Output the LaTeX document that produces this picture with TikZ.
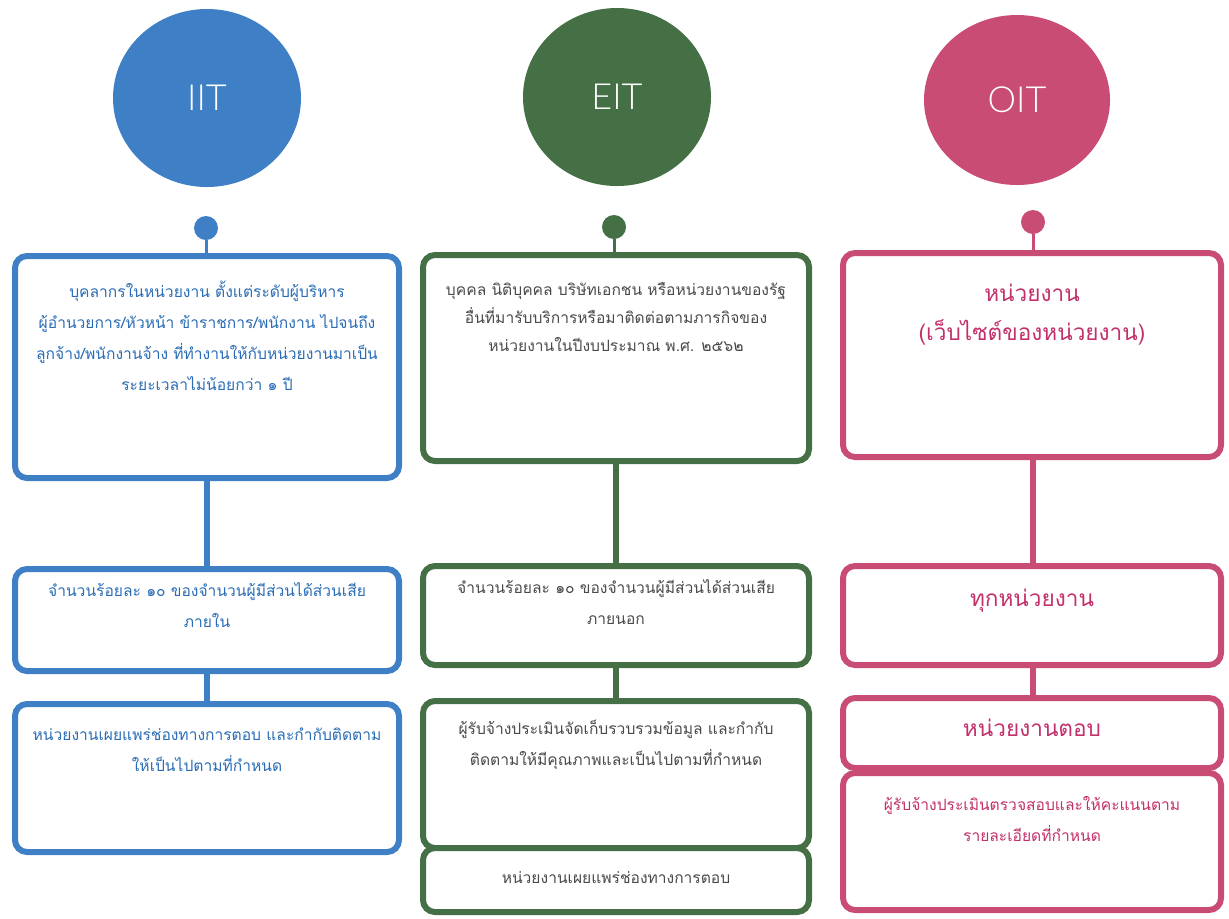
\documentclass[tikz,border=0pt]{standalone}
\usepackage{fontspec}
\newfontfamily\thaifont[Script=Thai]{Loma}
\newfontfamily\circfont{Lato Light}
\usetikzlibrary{positioning,shapes.geometric}

\definecolor{iitblue}{HTML}{3E7FC5}
\definecolor{iittext}{HTML}{2A6DB6}
\definecolor{eitgreen}{HTML}{456F44}
\definecolor{eittext}{HTML}{4A4A4A}
\definecolor{oitpink}{HTML}{C84C73}
\definecolor{oittext}{HTML}{C3306B}

\tikzset{
  head/.style={ellipse, fill=#1, text=white, minimum width=94pt, minimum height=89pt,
    font=\circfont\fontsize{18}{18}\selectfont},
  knob/.style={circle, fill=#1, minimum size=12pt, inner sep=0pt},
  panel/.style={draw=#1, line width=3pt, rounded corners=6pt, fill=white},
  stem/.style={draw=#1, line width=3pt},
  thinstem/.style={draw=#1, line width=1.5pt},
  paneltext/.style={align=center, inner sep=0pt, font=\thaifont\fontsize{7.8}{15.5}\selectfont},
  bigtext/.style={align=center, inner sep=0pt, font=\thaifont\fontsize{11.3}{19.5}\selectfont}
}

\begin{document}
\begin{tikzpicture}[x=0.5pt, y=-0.5pt]
  \useasboundingbox (0,0) rectangle (1229,918);

  % heads
  \node[head=iitblue] (iit) at (207,98) {IIT};
  \node[head=eitgreen] (eit) at (617,97) {EIT};
  \node[head=oitpink, minimum width=93pt, minimum height=85pt] (oit) at (1017,100) {OIT};

  \node[knob=iitblue] (iitdot) at (206,228) {};
  \node[knob=eitgreen] (eitdot) at (614,227) {};
  \node[knob=oitpink] (oitdot) at (1033,222) {};

  % IIT column
  \node[panel=iitblue, minimum width=192pt, minimum height=111pt] (iitA) at (207,367) {};
  \node[panel=iitblue, minimum width=192pt, minimum height=51pt] (iitB) at (207,620) {};
  \node[panel=iitblue, minimum width=192pt, minimum height=74pt] (iitC) at (207,778) {};

  % EIT column
  \node[panel=eitgreen, minimum width=193pt, minimum height=103pt] (eitA) at (616,358) {};
  \node[panel=eitgreen, minimum width=193pt, minimum height=49.5pt] (eitB) at (616,615.5) {};
  \node[panel=eitgreen, minimum width=193pt, minimum height=73.5pt] (eitC) at (616,774.5) {};
  \node[panel=eitgreen, minimum width=193pt, minimum height=32pt] (eitD) at (616,880) {};

  % OIT column
  \node[panel=oitpink, minimum width=189pt, minimum height=102pt] (oitA) at (1032,355) {};
  \node[panel=oitpink, minimum width=189pt, minimum height=49.5pt] (oitB) at (1032,615.5) {};
  \node[panel=oitpink, minimum width=189pt, minimum height=35pt] (oitC) at (1032,733) {};
  \node[panel=oitpink, minimum width=189pt, minimum height=68.5pt] (oitD) at (1032,841.5) {};

  % connectors
  \draw[thinstem=iitblue] (iitdot.south) -- (iitdot.south |- iitA.north);
  \draw[thinstem=eitgreen] (eitdot.south) -- (eitdot.south |- eitA.north);
  \draw[thinstem=oitpink] (oitdot.south) -- (oitdot.south |- oitA.north);
  \draw[stem=iitblue] (iitA.south) -- (iitB.north);
  \draw[stem=iitblue] (iitB.south) -- (iitC.north);
  \draw[stem=eitgreen] (eitA.south) -- (eitB.north);
  \draw[stem=eitgreen] (eitB.south) -- (eitC.north);
  \draw[stem=oitpink] (oitA.south -| oitdot) -- (oitB.north -| oitdot);
  \draw[stem=oitpink] (oitB.south -| oitdot) -- (oitC.north -| oitdot);

  % texts
  \node[paneltext, text=iittext, below=14pt of iitA.north] (iitAtext)
    {บุคลากรในหน่วยงาน ตั้งแต่ระดับผู้บริหาร\\
     ผู้อำนวยการ/หัวหน้า ข้าราชการ/พนักงาน ไปจนถึง\\
     ลูกจ้าง/พนักงานจ้าง ที่ทำงานให้กับหน่วยงานมาเป็น\\
     ระยะเวลาไม่น้อยกว่า ๑ ปี};
  \node[paneltext, text=iittext, below=8pt of iitB.north] (iitBtext)
    {จำนวนร้อยละ ๑๐ ของจำนวนผู้มีส่วนได้ส่วนเสีย\\ภายใน};
  \node[paneltext, text=iittext, below=13pt of iitC.north] (iitCtext)
    {หน่วยงานเผยแพร่ช่องทางการตอบ และกำกับติดตาม\\ให้เป็นไปตามที่กำหนด};

  \node[paneltext, text=eittext, below=15pt of eitA.north, font=\thaifont\fontsize{7.8}{14}\selectfont] (eitAtext)
    {บุคคล นิติบุคคล บริษัทเอกชน หรือหน่วยงานของรัฐ\\
     อื่นที่มารับบริการหรือมาติดต่อตามภารกิจของ\\
     หน่วยงานในปีงบประมาณ พ.ศ. ๒๕๖๒};
  \node[paneltext, text=eittext, below=8pt of eitB.north] (eitBtext)
    {จำนวนร้อยละ ๑๐ ของจำนวนผู้มีส่วนได้ส่วนเสีย\\ภายนอก};
  \node[paneltext, text=eittext, below=11pt of eitC.north] (eitCtext)
    {ผู้รับจ้างประเมินจัดเก็บรวบรวมข้อมูล และกำกับ\\ติดตามให้มีคุณภาพและเป็นไปตามที่กำหนด};
  \node[paneltext, text=eittext, below=13pt of eitD.north] (eitDtext)
    {หน่วยงานเผยแพร่ช่องทางการตอบ};

  \node[bigtext, text=oittext, below=17pt of oitA.north] (oitAtext)
    {หน่วยงาน\\(เว็บไซต์ของหน่วยงาน)};
  \node[bigtext, text=oittext, below=13pt of oitB.north] (oitBtext) {ทุกหน่วยงาน};
  \node[bigtext, text=oittext, below=12pt of oitC.north] (oitCtext) {หน่วยงานตอบ};
  \node[paneltext, text=oittext, below=13pt of oitD.north] (oitDtext)
    {ผู้รับจ้างประเมินตรวจสอบและให้คะแนนตาม\\รายละเอียดที่กำหนด};
\end{tikzpicture}
\end{document}
